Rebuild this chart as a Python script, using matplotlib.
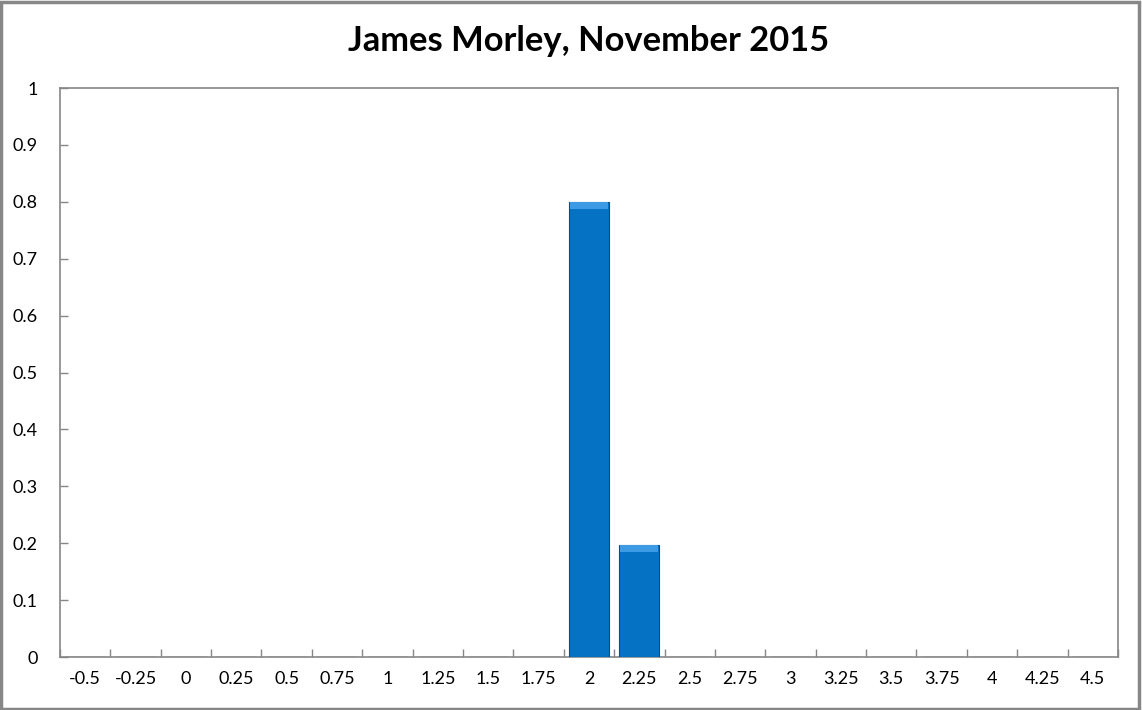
import matplotlib
matplotlib.use("Agg")
import matplotlib.pyplot as plt
from matplotlib.patches import Rectangle

categories = ["-0.5", "-0.25", "0", "0.25", "0.5", "0.75", "1", "1.25", "1.5", "1.75",
              "2", "2.25", "2.5", "2.75", "3", "3.25", "3.5", "3.75", "4", "4.25", "4.5"]
values = [0, 0, 0, 0, 0, 0, 0, 0, 0, 0, 0.8, 0.197, 0, 0, 0, 0, 0, 0, 0, 0, 0]
yticks = [0, 0.1, 0.2, 0.3, 0.4, 0.5, 0.6, 0.7, 0.8, 0.9, 1]
ytick_labels = ["0", "0.1", "0.2", "0.3", "0.4", "0.5", "0.6", "0.7", "0.8", "0.9", "1"]
title = "James Morley, November 2015"

plt.rcParams['font.family'] = ['Lato', 'DejaVu Sans']

fig = plt.figure(figsize=(11.42, 7.10), dpi=100)
fig.patch.set_facecolor("white")
# chart area border
fig.add_artist(Rectangle((0.0012, 0.002), 0.9965, 0.995, transform=fig.transFigure,
                         fill=False, edgecolor="#878787", linewidth=2.5))

ax = fig.add_axes([0.0525, 0.0746, 0.9265, 0.8014])
x = list(range(len(categories)))
bw = 0.79
ax.bar(x, values, width=bw, color="#0672C4", edgecolor="#0B4C86", linewidth=0.8, zorder=3)
# bevel highlight at top of bars
tops = [v for v in values]
hl = [0.012 if v > 0 else 0 for v in values]
ax.bar(x, hl, width=bw * 0.96, bottom=[t - h for t, h in zip(tops, hl)],
       color="#3D9BE6", linewidth=0, zorder=4)

ax.set_xlim(-0.5, len(categories) - 0.5)
ax.set_ylim(0, 1)
ax.set_yticks(yticks)
ax.set_yticklabels(ytick_labels)
ax.set_xticks(x)
ax.set_xticklabels(categories)
ax.set_xticks([i + 0.5 for i in range(-1, len(categories))], minor=True)

for s in ax.spines.values():
    s.set_color("#868686")
    s.set_linewidth(1.2)
ax.tick_params(axis="x", which="major", length=0, pad=10, labelsize=13, colors="black")
ax.tick_params(axis="x", which="minor", direction="in", length=6, color="#868686", width=1)
ax.tick_params(axis="y", which="major", direction="in", length=6, color="#868686", width=1,
               pad=16, labelsize=13)

fig.text(0.515, 0.942, title, ha="center", va="center", fontsize=24.8, fontweight="bold")

fig.savefig("out.png", dpi=100)
